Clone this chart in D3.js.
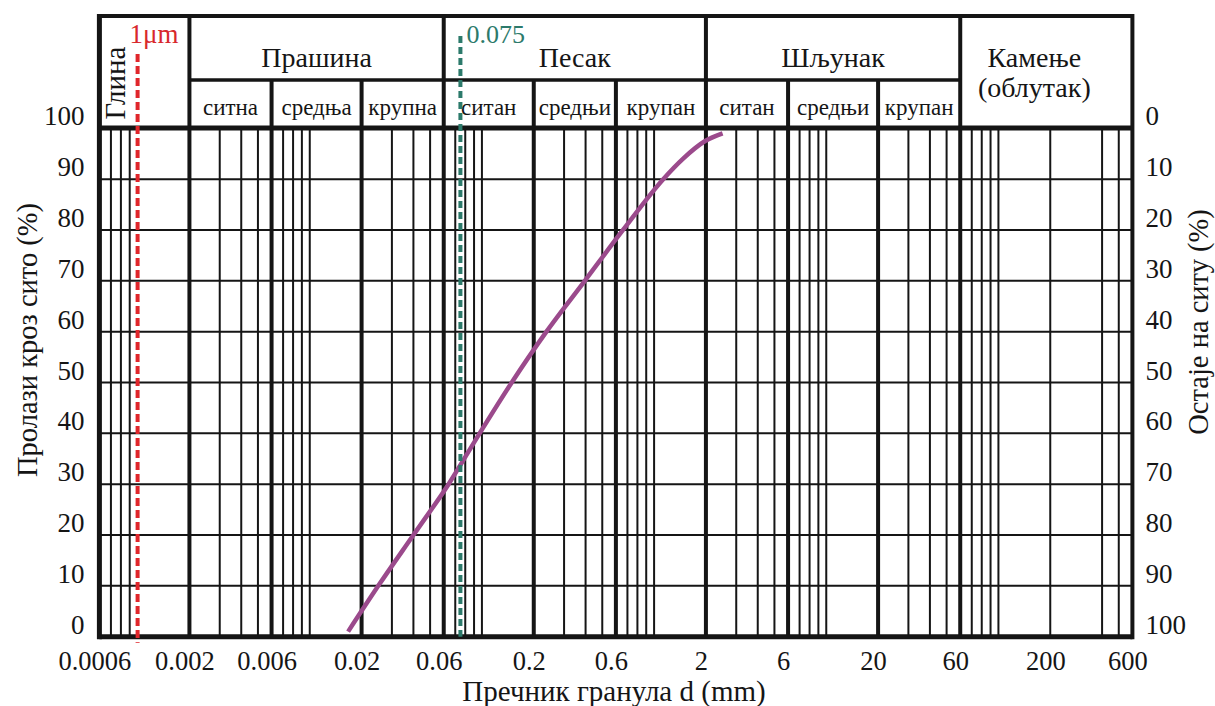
<!DOCTYPE html>
<html>
<head>
<meta charset="utf-8">
<script src="https://cdn.jsdelivr.net/npm/d3@7/dist/d3.min.js"></script>
<style>
  html, body { margin: 0; padding: 0; background: #fff; }
  svg, svg text { font-family: "Liberation Serif", "DejaVu Serif", "Times New Roman", serif; }
  svg { display: block; }
</style>
</head>
<body>
<svg id="chart" width="1215" height="706"></svg>
<script>
// Grain size values (mm) labelled along the bottom edge
const sizeTicks = [0.0006, 0.002, 0.006, 0.02, 0.06, 0.2, 0.6, 2, 6, 20, 60, 200, 600];
const sizeTickLabels = ["0.0006", "0.002", "0.006", "0.02", "0.06", "0.2", "0.6", "2", "6", "20", "60", "200", "600"];
// Heavy grid lines (fraction boundaries)
const majorLines = [0.002, 0.006, 0.02, 0.06, 0.2, 0.6, 2, 6, 20, 60];
// Thin grid lines
const minorLines = [0.0007, 0.0008, 0.0009,
  0.003, 0.004, 0.005,
  0.007, 0.008, 0.009, 0.01,
  0.03, 0.04, 0.05,
  0.07, 0.08, 0.09, 0.1,
  0.3, 0.4, 0.5,
  0.7, 0.8, 0.9, 1,
  3, 4, 5,
  7, 8, 9, 10,
  30, 40, 50,
  70, 80, 90, 100,
  200, 400, 500];
// Percent ticks
const passingTicks = [0, 10, 20, 30, 40, 50, 60, 70, 80, 90, 100];

// Soil fractions (header)
const groupNames = ["Прашина", "Песак", "Шљунак"];
const groupBounds = [[0.002, 0.06], [0.06, 2], [2, 60]];
const subNames = ["ситна", "средња", "крупна", "ситан", "средњи", "крупан", "ситан", "средњи", "крупан"];
const subBounds = [[0.002, 0.006], [0.006, 0.02], [0.02, 0.06],
  [0.06, 0.2], [0.2, 0.6], [0.6, 2],
  [2, 6], [6, 20], [20, 60]];
const clayBounds = [0.0006, 0.002];
const stoneBounds = [60, 600];

// Grading curve: grain size d (mm) vs. percent passing
const grainSize = [0.0167, 0.025, 0.04, 0.064, 0.097, 0.149, 0.237, 0.396, 0.66, 1.13, 1.47, 1.98, 2.5];
const passing   = [1, 10, 20, 30, 40, 50, 60, 70, 80, 90, 94, 97.5, 99];

// Reference sizes
const clayLimit = 0.001;   // 1 µm
const sieveSize = 0.075;   // 0.075 mm

const serif = "Liberation Serif, DejaVu Serif, serif";
const svg = d3.select("#chart").attr("font-family", serif);
const ink = "#151515";

const x = d3.scaleLog().domain([0.0006, 600]).range([99.4, 1132.4]);
const y = d3.scaleLinear().domain([0, 100]).range([636.7, 128.3]);
const yRet = d3.scaleLinear().domain([100, 0]).range([636.7, 128.3]);

const headTop = 16, headMid = 80, plotTop = 128, plotBottom = 636.7;
const plotLeft = x(0.0006), plotRight = x(600);

// horizontal grid
svg.append("g").selectAll("line").data(passingTicks.slice(1, -1)).join("line")
  .attr("x1", plotLeft).attr("x2", plotRight)
  .attr("y1", d => y(d)).attr("y2", d => y(d))
  .attr("stroke", ink).attr("stroke-width", 2);

// thin vertical grid
svg.append("g").selectAll("line").data(minorLines).join("line")
  .attr("x1", d => x(d)).attr("x2", d => x(d))
  .attr("y1", plotTop).attr("y2", plotBottom)
  .attr("stroke", ink).attr("stroke-width", 2);

// heavy vertical lines through plot and header
const groupEdges = new Set([0.002, 0.06, 2, 60]);
svg.append("g").selectAll("line").data(majorLines).join("line")
  .attr("x1", d => x(d)).attr("x2", d => x(d))
  .attr("y1", d => groupEdges.has(d) ? headTop : headMid).attr("y2", plotBottom)
  .attr("stroke", ink).attr("stroke-width", 4);

// header rules and frame
const frame = svg.append("g").attr("stroke", ink).attr("fill", "none");
frame.append("line").attr("x1", plotLeft).attr("x2", plotRight).attr("y1", headTop).attr("y2", headTop).attr("stroke-width", 4);
frame.append("line").attr("x1", x(0.002)).attr("x2", x(60)).attr("y1", headMid).attr("y2", headMid).attr("stroke-width", 3.5);
frame.append("line").attr("x1", plotLeft).attr("x2", plotRight).attr("y1", plotTop).attr("y2", plotTop).attr("stroke-width", 5);
frame.append("line").attr("x1", plotLeft).attr("x2", plotRight).attr("y1", plotBottom).attr("y2", plotBottom).attr("stroke-width", 5);
frame.append("line").attr("x1", plotLeft).attr("x2", plotLeft).attr("y1", headTop - 2).attr("y2", plotBottom + 2.5).attr("stroke-width", 5);
frame.append("line").attr("x1", plotRight).attr("x2", plotRight).attr("y1", headTop - 2).attr("y2", plotBottom + 2.5).attr("stroke-width", 4);

// header text
const head = svg.append("g").attr("fill", ink).attr("text-anchor", "middle").attr("font-family", serif);
head.selectAll("text.group").data(groupNames).join("text")
  .attr("class", "group")
  .attr("x", (d, i) => (x(groupBounds[i][0]) + x(groupBounds[i][1])) / 2)
  .attr("y", 67).attr("font-size", 28).text(d => d);
head.selectAll("text.sub").data(subNames).join("text")
  .attr("class", "sub")
  .attr("x", (d, i) => (x(subBounds[i][0]) + x(subBounds[i][1])) / 2)
  .attr("y", 115).attr("font-size", 23).text(d => d);
const stoneX = (x(stoneBounds[0]) + x(stoneBounds[1])) / 2 - 12;
head.append("text").attr("x", stoneX).attr("y", 67).attr("font-size", 28).text("Камење");
head.append("text").attr("x", stoneX).attr("y", 97).attr("font-size", 28).text("(облутак)");
const clayX = (x(clayBounds[0]) + x(clayBounds[1])) / 2 - 19;
head.append("text").attr("font-size", 29)
  .attr("transform", `translate(${clayX},83) rotate(-90)`)
  .text("Глина");

// grading curve
const line = d3.line()
  .x((d, i) => x(grainSize[i]))
  .y((d, i) => y(passing[i]))
  .curve(d3.curveMonotoneX);
svg.append("path").datum(grainSize).attr("d", line)
  .attr("fill", "none").attr("stroke", "#9b4a8c").attr("stroke-width", 4.5)
  .attr("stroke-linecap", "butt");

// 1 µm limit
svg.append("line").attr("x1", x(clayLimit)).attr("x2", x(clayLimit))
  .attr("y1", 54).attr("y2", plotBottom + 6)
  .attr("stroke", "#e0262b").attr("stroke-width", 4).attr("stroke-dasharray", "8,4");
svg.append("text").attr("x", x(clayLimit) - 8).attr("y", 43).attr("font-family", serif)
  .attr("font-size", 27).attr("fill", "#d8282c").text("1μm");

// 0.075 mm sieve
svg.append("line").attr("x1", x(sieveSize)).attr("x2", x(sieveSize))
  .attr("y1", 36).attr("y2", plotBottom)
  .attr("stroke", "#2c7a6b").attr("stroke-width", 4).attr("stroke-dasharray", "7,4");
svg.append("text").attr("x", x(sieveSize) + 6).attr("y", 43).attr("font-family", serif)
  .attr("font-size", 26).attr("fill", "#2c7a6b").text("0.075");

// axes
const fmt = d => sizeTickLabels[sizeTicks.indexOf(d)];
const xAxis = svg.append("g").attr("transform", `translate(0,${plotBottom})`)
  .call(d3.axisBottom(x).tickValues(sizeTicks).tickFormat(fmt).tickSize(0).tickPadding(14));
const yAxisL = svg.append("g").attr("transform", `translate(${plotLeft},0)`)
  .call(d3.axisLeft(y).tickValues(passingTicks).tickFormat(d3.format("d")).tickSize(0).tickPadding(15));
const yAxisR = svg.append("g").attr("transform", `translate(${plotRight},0)`)
  .call(d3.axisRight(yRet).tickValues(passingTicks).tickFormat(d3.format("d")).tickSize(0).tickPadding(13));
[xAxis, yAxisL, yAxisR].forEach(g => {
  g.select(".domain").remove();
  g.attr("font-family", serif).attr("font-size", 27);
  g.selectAll("text").attr("fill", ink);
});
xAxis.attr("font-size", 26.5).selectAll("text").attr("dx", -5);
yAxisL.selectAll("text").attr("y", -12);
yAxisR.selectAll("text").attr("y", -12);

// axis titles
const titles = svg.append("g").attr("font-family", serif).attr("font-size", 28.5)
  .attr("fill", ink).attr("text-anchor", "middle");
titles.append("text").attr("transform", "translate(37,340) rotate(-90)").text("Пролази кроз сито (%)");
titles.append("text").attr("transform", "translate(1208,322) rotate(-90)").text("Остаје на ситу (%)");
titles.append("text").attr("x", 614).attr("y", 701).attr("font-size", 29).text("Пречник гранула d (mm)");
</script>
</body>
</html>
